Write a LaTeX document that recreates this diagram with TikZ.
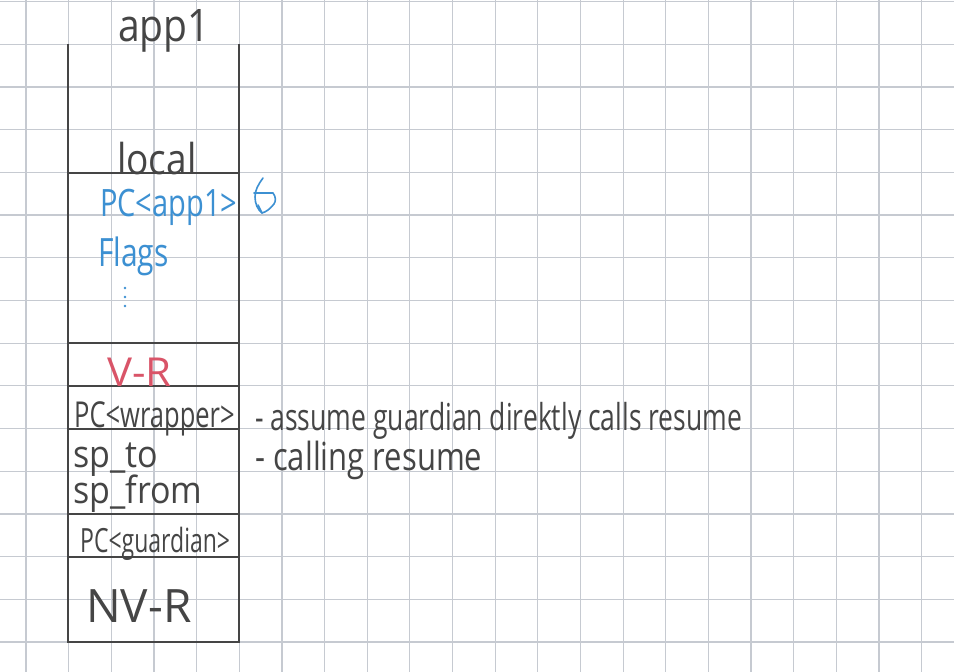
\documentclass[tikz,border=0pt]{standalone}
\usepackage{fontspec}
\usepackage{graphicx}
\setmainfont{Open Sans}
\definecolor{gridc}{HTML}{C6CAD1}
\definecolor{ink}{HTML}{454545}
\definecolor{penblue}{HTML}{3C90D2}
\definecolor{penred}{HTML}{D95468}
\newcommand{\hw}[2][1.3]{\scalebox{1}[#1]{#2}}
\tikzset{
  hand/.style={inner sep=0pt, anchor=base west, text=ink},
  bluehand/.style={hand, text=penblue},
  redhand/.style={hand, text=penred},
  boxline/.style={draw=ink, line width=1.8pt},
  gridline/.style={draw=gridc, line width=1.2pt}
}
\begin{document}
\begin{tikzpicture}[x=1pt,y=-1pt]
\useasboundingbox[fill=white] (0,0) rectangle (954,672);
% grid paper
\foreach \k in {0,...,21} {\draw[gridline] ({26+42.65*\k},0) -- ({26+42.65*\k},672);}
\foreach \k in {0,...,15} {\draw[gridline] (0,{1.5+42.7*\k}) -- (954,{1.5+42.7*\k});}
% stack box
\draw[boxline] (68,44) -- (68,642) -- (239,642) -- (239,44);
\foreach \yy in {173,343,386,429,514,557} {\draw[boxline] (68,\yy) -- (239,\yy);}
% texts
\node[hand, font=\fontsize{39}{39}\selectfont] (app) at (118,41) {\hw[1.15]{app1}};
\node[hand, font=\fontsize{37}{37}\selectfont] (local) at (117,174) {\hw[1.15]{local}};
\node[bluehand, font=\fontsize{29}{29}\selectfont] (pcapp) at (100,216) {\hw{PC<app1>}};
\node[bluehand, font=\fontsize{30}{30}\selectfont] (flags) at (98,266) {\hw{Flags}};
\foreach \yy [count=\i] in {288,297,306} {\fill[penblue] (125,\yy) circle (1.3pt);}
\node[redhand, font=\fontsize{42}{42}\selectfont] (vr) at (107,386) {\hw[0.95]{V-R}};
\node[hand, font=\fontsize{25.5}{25.5}\selectfont] (pcwrap) at (74,427) {\hw[1.4]{PC<wrapper>}};
\node[hand, font=\fontsize{34}{34}\selectfont] (spto) at (73,467) {\hw[1.1]{sp\_to}};
\node[hand, font=\fontsize{34}{34}\selectfont] (spfrom) at (73,503) {\hw[1.1]{sp\_from}};
\node[hand, font=\fontsize{23}{23}\selectfont] (pcguard) at (80,552) {\hw[1.45]{PC<guardian>}};
\node[hand, font=\fontsize{46}{46}\selectfont] (nvr) at (86,622) {\hw[1.0]{NV-R}};
\node[hand, font=\fontsize{26.5}{26.5}\selectfont] (note1) at (255,430) {\hw[1.4]{- assume guardian direktly calls resume}};
\node[hand, font=\fontsize{31}{31}\selectfont] (note2) at (255,470) {\hw[1.25]{- calling resume}};
% small hand-drawn mark next to PC<app1>
\draw[penblue, line width=1.6pt, line cap=round, line join=round]
  (263,178) .. controls (258,185) and (255,190) .. (255,197)
  .. controls (255,204) and (258,210) .. (262,213);
\draw[penblue, line width=1.6pt, line cap=round, line join=round]
  (254,193) -- (273,193) .. controls (276,197) and (276,201) .. (274,204)
  .. controls (270,209) and (266,212) .. (262,213) -- (258,205);
\end{tikzpicture}
\end{document}
